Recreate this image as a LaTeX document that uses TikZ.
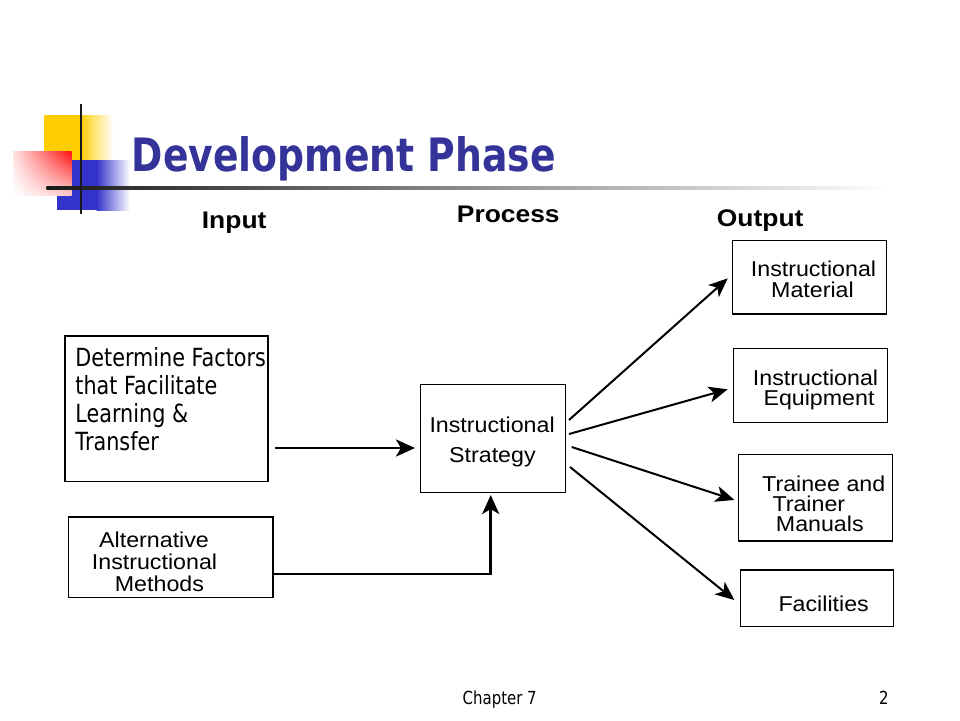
\documentclass[tikz,border=0pt]{standalone}
\usepackage{fontspec}
\usetikzlibrary{arrows.meta,shadings}
\setmainfont{Liberation Sans}
\newfontfamily\titlefont[FakeStretch=0.82]{DejaVu Sans}
\newfontfamily\hdfont[FakeStretch=1.1]{Liberation Sans}
\newfontfamily\bodyfont[FakeStretch=1.08]{Liberation Sans}
\newfontfamily\tahfont[FakeStretch=0.83]{DejaVu Sans}
\definecolor{ttl}{HTML}{333399}
\definecolor{yel}{HTML}{FFCC00}
\definecolor{blu}{HTML}{3333CC}
\definecolor{rd}{HTML}{FF1010}
\newcommand\lns[2]{\vtop{\baselineskip=#1\lineskiplimit=-1000pt\lineskip=0pt #2}}
\tikzset{
  box/.style={draw=black, line width=1.15pt, inner sep=0pt, fill=white},
  txt/.style={inner sep=0pt, anchor=base west, font=\bodyfont\fontsize{21.5}{21}\selectfont},
  hd/.style={inner sep=0pt, anchor=base west, font=\hdfont\bfseries\fontsize{24}{26}\selectfont},
  thickarr/.style={line width=2.9pt, -{Stealth[length=19pt,width=17pt,inset=5pt]}},
  thinarr/.style={line width=2pt, -{Stealth[length=19pt,width=16pt,inset=5pt]}},
}
\begin{document}
\begin{tikzpicture}[x=1pt,y=-1pt]
\useasboundingbox (0,0) rectangle (960,720);
\fill[white] (0,0) rectangle (960,720);
% decoration
\fill[yel] (44,115) rectangle (80,170);
\shade[left color=yel, right color=white] (79.5,115) rectangle (113,170);
\fill[blu] (57.3,160) rectangle (97,210);
\shade[left color=blu, right color=white] (96.5,160) rectangle (130,210);
\shade[upper right=rd, upper left=rd!12, lower right=rd!22, lower left=white] (13.3,151.7) rectangle (71.7,195);
\shade[left color=black!90, right color=white] (46.7,186.8) rectangle (890,189.8);
\fill[black!90] (79.8,104.3) rectangle (82.3,214.3);
% title
\node[inner sep=0pt, anchor=base west, text=ttl, font=\titlefont\bfseries\fontsize{46}{50}\selectfont] (title) at (131.7,171.7) {Development Phase};
% headers
\node[hd] (hin) at (201.7,228.3) {Input};
\node[hd] (hpr) at (456.7,222.3) {Process};
\node[hd] (hout) at (716.7,226.7) {Output};
% boxes
\node[box, minimum width=203pt, minimum height=145.7pt] (det) at (166.5,408.85) {};
\node[box, minimum width=204.7pt, minimum height=80.7pt] (alt) at (170.65,557.35) {};
\node[box, minimum width=145pt, minimum height=108pt] (strat) at (493.2,438.3) {};
\node[box, minimum width=154pt, minimum height=73.3pt] (mat) at (809.3,277.35) {};
\node[box, minimum width=154pt, minimum height=74pt] (equ) at (810.3,385.3) {};
\node[box, minimum width=154pt, minimum height=86.7pt] (man) at (815.3,497.65) {};
\node[box, minimum width=153pt, minimum height=56.7pt] (fac) at (816.8,598.35) {};
% texts
\node[inner sep=0pt, anchor=base west, font=\tahfont\fontsize{25}{28}\selectfont] (tdet) at (75.2,366.7)
  {\lns{28pt}{\hbox{Determine Factors}\hbox{that Facilitate}\hbox{Learning \&}\hbox{Transfer}}};
\node[txt] (talt) at (91.7,547.7)
  {\lns{22pt}{\hbox{\kern7.3pt Alternative}\hbox{Instructional}\hbox{\kern23pt Methods}}};
\node[txt] (tstrat) at (429.3,432.3)
  {\lns{30.4pt}{\hbox{Instructional}\hbox{\kern19.7pt Strategy}}};
\node[txt] (tmat) at (750.7,276.7)
  {\lns{21pt}{\hbox{Instructional}\hbox{\kern20.3pt Material}}};
\node[txt] (tequ) at (752.7,385)
  {\lns{20.7pt}{\hbox{Instructional}\hbox{\kern10.6pt Equipment}}};
\node[txt] (tman) at (762,491)
  {\lns{20.4pt}{\hbox{Trainee and}\hbox{\kern10.3pt Trainer}\hbox{\kern13.7pt Manuals}}};
\node[txt] (tfac) at (778.3,611) {Facilities};
% footer
\node[inner sep=0pt, anchor=base west, font=\tahfont\fontsize{18}{20}\selectfont] (foot) at (462.5,704.3) {Chapter 7};
\node[inner sep=0pt, anchor=base west, font=\tahfont\fontsize{18}{20}\selectfont] (pnum) at (879,704.3) {2};
% connectors
\coordinate (d1) at (274.5,448);
\coordinate (d2) at (415,448);
\draw[thickarr] (d1) -- (d2);
\coordinate (a1) at (273.3,574);
\coordinate (a2) at (490.7,495);
\draw[thickarr] (a1) -| (a2);
\coordinate (s1) at (569,420);
\coordinate (s2) at (569,434);
\coordinate (s3) at (571.7,447);
\coordinate (s4) at (570,467);
\draw[thinarr] (s1) -- ([shift={(-4,1)}]mat.west);
\draw[thinarr] (s2) -- ([shift={(-5,4)}]equ.west);
\draw[thinarr] (s3) -- ([shift={(-3.3,2.3)}]man.west);
\draw[thinarr] (s4) -- ([shift={(-5.3,1.7)}]fac.west);
\end{tikzpicture}
\end{document}
